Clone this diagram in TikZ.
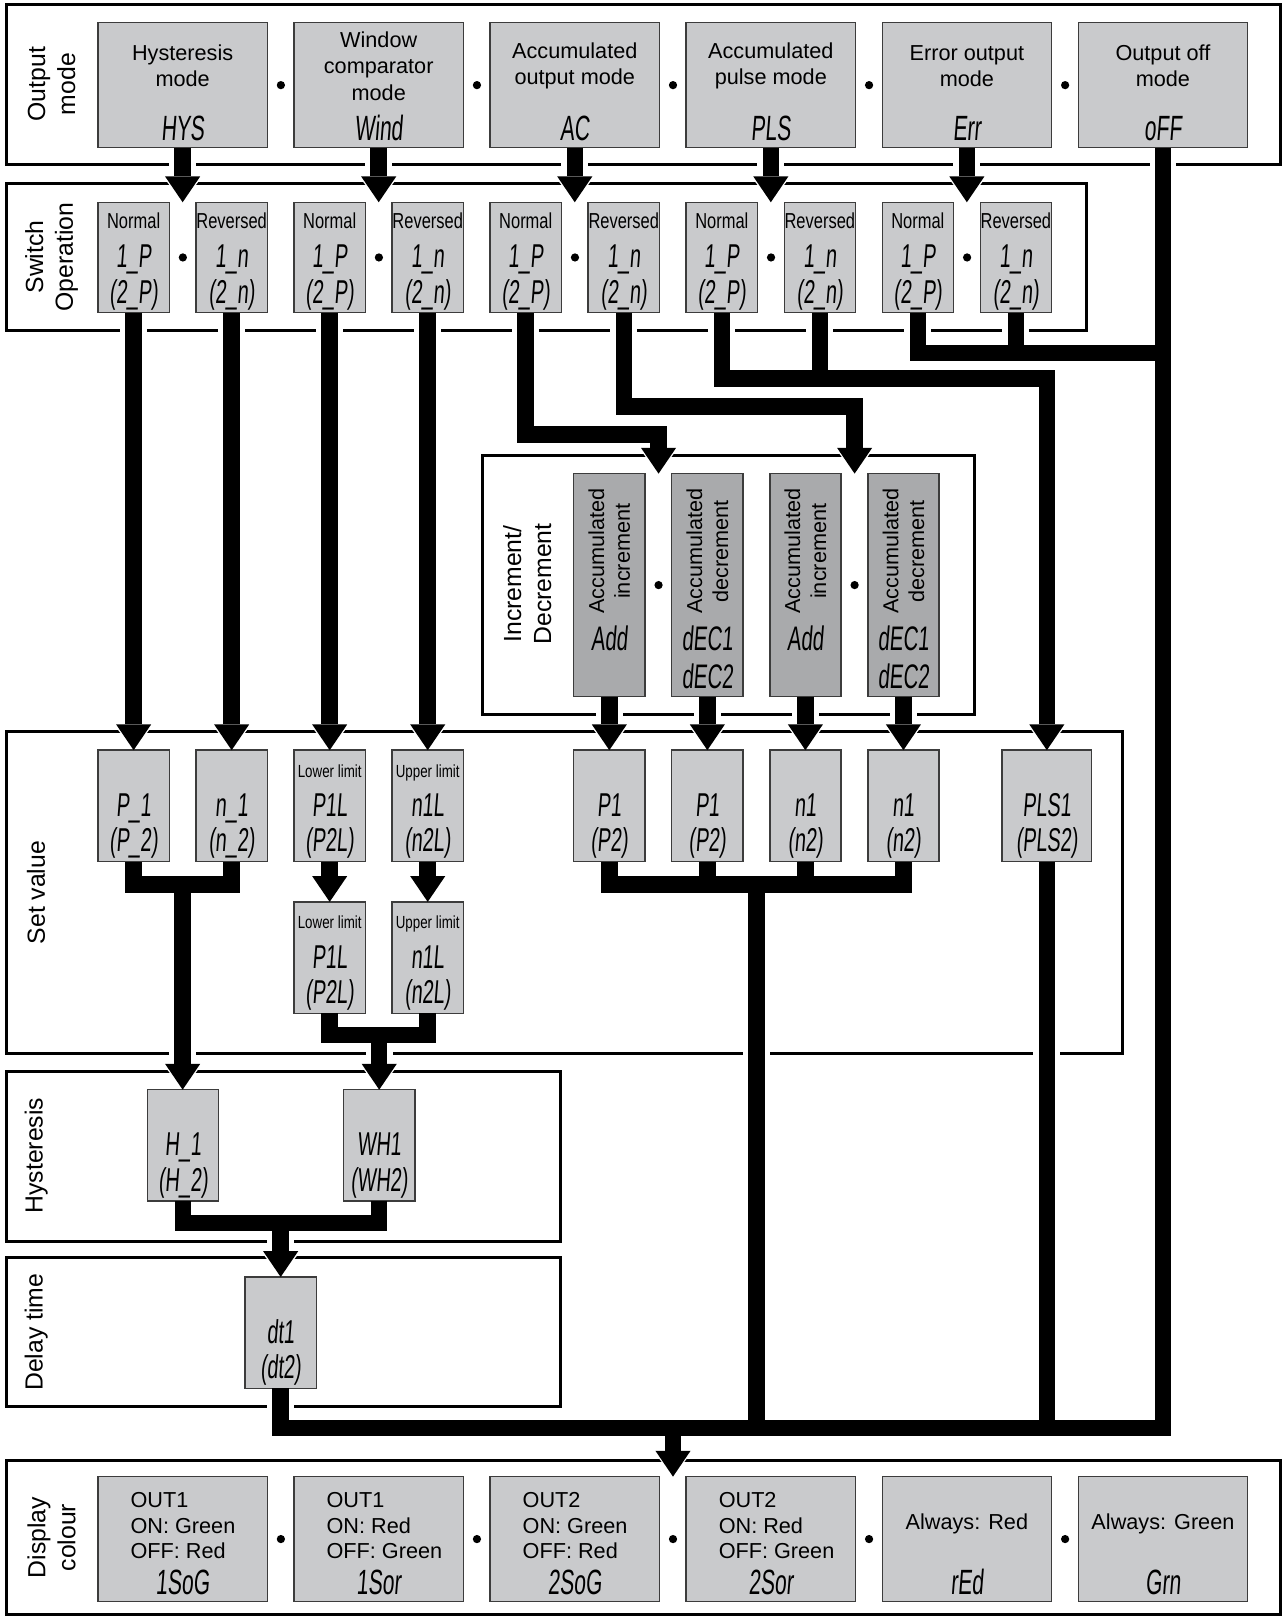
\documentclass[tikz,border=0pt]{standalone}
\usepackage{fontspec}
\setmainfont{Liberation Sans}
\newfontfamily\lcdfont[FakeStretch=0.6,FakeSlant=0.08]{Liberation Sans}
\newfontfamily\narrowfont[FakeStretch=0.76]{Liberation Sans}
\usetikzlibrary{arrows.meta,positioning,calc}
\definecolor{lcdgray}{HTML}{C9CACC}
\definecolor{incgray}{HTML}{A9AAAC}
\definecolor{boxline}{HTML}{3C3C3C}
\pgfdeclarelayer{panels}
\pgfdeclarelayer{halo}
\pgfsetlayers{panels,halo,main}
% box contents: small label line, then two LCD lines
\newcommand{\swv}[3]{\rule{0pt}{23pt}{\narrowfont\fontsize{21}{20}\selectfont #1}\\[4pt]{\lcdfont #2}\\{\lcdfont #3}}
\newcommand{\setv}[3]{\rule{0pt}{23pt}{\narrowfont\fontsize{17}{20}\selectfont #1}\\[4pt]{\lcdfont #2}\\{\lcdfont #3}}
% thick connector with a white halo under it
\newcommand{\conn}[2][]{%
  \begin{pgfonlayer}{halo}\draw[halo,#1] #2;\end{pgfonlayer}%
  \draw[flow,#1] #2;}

\begin{document}
\begin{tikzpicture}[x=1pt,y=-1pt,
  box/.style={draw=boxline,line width=1.4pt,fill=lcdgray,inner sep=0pt,outer sep=0pt},
  modebox/.style={box,minimum width=164pt,minimum height=121pt},
  swbox/.style={box,minimum width=69pt,minimum height=107pt,align=center,font=\fontsize{32}{34}\selectfont},
  valbox/.style={swbox,minimum height=108pt},
  incbox/.style={box,fill=incgray,minimum width=69pt,minimum height=216pt},
  dot/.style={circle,fill=black,inner sep=0pt,minimum size=8pt},
  sect/.style={rotate=90,align=center,font=\fontsize{24}{29}\selectfont},
  panel/.style={draw=black,line width=3pt},
  modetxt/.style={anchor=center,yshift=-42pt,align=center,font=\fontsize{21}{25.5}\selectfont},
  lcdtxt/.style={anchor=base,yshift=7pt,font=\lcdfont\fontsize{34}{36}\selectfont},
  disptxt/.style={anchor=north west,xshift=28pt,yshift=-12pt,align=left,font=\fontsize{21}{24.5}\selectfont},
  alltxt/.style={anchor=base,yshift=-51pt,font=\fontsize{21}{24.5}\selectfont},
  inctxt/.style={yshift=-11pt,rotate=90,anchor=east,align=center,font=\fontsize{21}{25}\selectfont},
  inclcd/.style={anchor=north,yshift=-144pt,align=center,font=\lcdfont\fontsize{33}{37}\selectfont},
  flow/.style={draw=black,line width=16pt,>={Triangle[length=25pt,width=34pt,line width=0pt]}},
  halo/.style={draw=white,line width=26pt,>={Triangle[length=30pt,width=46pt,line width=0pt]}}
]
\useasboundingbox (0,0) rectangle (1243,1568);

% section frames
\begin{pgfonlayer}{panels}
\draw[panel] (6,4) rectangle (1241,159);
\draw[panel] (6,178) rectangle (1053,320);
\draw[panel] (468,441) rectangle (944,692);
\draw[panel] (6,709) rectangle (1088,1021);
\draw[panel] (6,1038) rectangle (543,1203);
\draw[panel] (6,1219) rectangle (543,1363);
\draw[panel] (6,1415) rectangle (1241,1565);
\end{pgfonlayer}

\node[sect] (lout) at (50,81.5) {Output\\mode};
\node[sect] (lsw) at (50,249) {Switch\\Operation};
\node[sect] (linc) at (511,566) {Increment/\\Decrement};
\node[sect] (lset) at (35,865) {Set value};
\node[sect] (lhys) at (35,1120) {Hysteresis};
\node[sect] (ldel) at (35,1291) {Delay time};
\node[sect] (ldis) at (50,1490) {Display\\colour};

% output mode
\node[modebox,label={[modetxt]north:{Hysteresis\\mode}},label={[lcdtxt]south:HYS}] (hys) at (177,82.5) {};
\node[modebox,right=26pt of hys,label={[modetxt]north:{Window\\comparator\\mode}},label={[lcdtxt]south:Wind}] (wind) {};
\node[modebox,right=26pt of wind,label={[modetxt]north:{Accumulated\\output mode}},label={[lcdtxt]south:AC}] (acc) {};
\node[modebox,right=26pt of acc,label={[modetxt]north:{Accumulated\\pulse mode}},label={[lcdtxt]south:PLS}] (pls) {};
\node[modebox,right=26pt of pls,label={[modetxt]north:{Error output\\mode}},label={[lcdtxt]south:Err}] (err) {};
\node[modebox,right=26pt of err,label={[modetxt]north:{Output off\\mode}},label={[lcdtxt]south:oFF}] (off) {};
\node[dot,right=9pt of hys] (d1) {};
\node[dot,right=9pt of wind] (d2) {};
\node[dot,right=9pt of acc] (d3) {};
\node[dot,right=9pt of pls] (d4) {};
\node[dot,right=9pt of err] (d5) {};

% switch operation
\node[swbox] (nrm1) at (129.5,249.5) {\swv{Normal}{1\_P}{(2\_P)}};
\node[swbox,right=26pt of nrm1] (rev1) {\swv{Reversed}{1\_n}{(2\_n)}};
\node[swbox,right=26pt of rev1] (nrm2) {\swv{Normal}{1\_P}{(2\_P)}};
\node[swbox,right=26pt of nrm2] (rev2) {\swv{Reversed}{1\_n}{(2\_n)}};
\node[swbox,right=26pt of rev2] (nrm3) {\swv{Normal}{1\_P}{(2\_P)}};
\node[swbox,right=26pt of nrm3] (rev3) {\swv{Reversed}{1\_n}{(2\_n)}};
\node[swbox,right=26pt of rev3] (nrm4) {\swv{Normal}{1\_P}{(2\_P)}};
\node[swbox,right=26pt of nrm4] (rev4) {\swv{Reversed}{1\_n}{(2\_n)}};
\node[swbox,right=26pt of rev4] (nrm5) {\swv{Normal}{1\_P}{(2\_P)}};
\node[swbox,right=26pt of nrm5] (rev5) {\swv{Reversed}{1\_n}{(2\_n)}};
\node[dot,right=9pt of nrm1] (e1) {};
\node[dot,right=9pt of nrm2] (e2) {};
\node[dot,right=9pt of nrm3] (e3) {};
\node[dot,right=9pt of nrm4] (e4) {};
\node[dot,right=9pt of nrm5] (e5) {};

% increment / decrement
\node[incbox,label={[inctxt]north:{Accumulated\\increment}},label={[inclcd]north:Add}] (inc1) at (590.5,567) {};
\node[incbox,right=26pt of inc1,label={[inctxt]north:{Accumulated\\decrement}},label={[inclcd]north:{dEC1\\dEC2}}] (dec1) {};
\node[incbox,right=26pt of dec1,label={[inctxt]north:{Accumulated\\increment}},label={[inclcd]north:Add}] (inc2) {};
\node[incbox,right=26pt of inc2,label={[inctxt]north:{Accumulated\\decrement}},label={[inclcd]north:{dEC1\\dEC2}}] (dec2) {};
\node[dot,right=9pt of inc1] (f1) {};
\node[dot,right=9pt of inc2] (f2) {};

% set value
\node[valbox] (sp1) at (129.5,781) {\setv{}{P\_1}{(P\_2)}};
\node[valbox,right=26pt of sp1] (sn1) {\setv{}{n\_1}{(n\_2)}};
\node[valbox,right=26pt of sn1] (lo1) {\setv{Lower limit}{P1L}{(P2L)}};
\node[valbox,right=26pt of lo1] (up1) {\setv{Upper limit}{n1L}{(n2L)}};
\node[valbox,below=39pt of lo1] (lo2) {\setv{Lower limit}{P1L}{(P2L)}};
\node[valbox,right=26pt of lo2] (up2) {\setv{Upper limit}{n1L}{(n2L)}};
\node[valbox] (ap1) at (590.5,781) {\setv{}{P1}{(P2)}};
\node[valbox,right=26pt of ap1] (ap2) {\setv{}{P1}{(P2)}};
\node[valbox,right=26pt of ap2] (an1) {\setv{}{n1}{(n2)}};
\node[valbox,right=26pt of an1] (an2) {\setv{}{n1}{(n2)}};
\node[valbox,minimum width=87pt] (spls) at (1014.5,781) {\setv{}{PLS1}{(PLS2)}};

% hysteresis, delay time
\node[valbox] (hy1) at (177.5,1110) {\setv{}{H\_1}{(H\_2)}};
\node[valbox] (wh1) at (367.5,1110) {\setv{}{WH1}{(WH2)}};
\node[valbox] (dt1) at (272,1291.5) {\setv{}{dt1}{(dt2)}};

% display colour
\node[modebox,label={[disptxt]north west:{OUT1\\ON: Green\\OFF: Red}},label={[lcdtxt]south:1SoG}] (c1) at (177,1491.5) {};
\node[modebox,right=26pt of c1,label={[disptxt]north west:{OUT1\\ON: Red\\OFF: Green}},label={[lcdtxt]south:1Sor}] (c2) {};
\node[modebox,right=26pt of c2,label={[disptxt]north west:{OUT2\\ON: Green\\OFF: Red}},label={[lcdtxt]south:2SoG}] (c3) {};
\node[modebox,right=26pt of c3,label={[disptxt]north west:{OUT2\\ON: Red\\OFF: Green}},label={[lcdtxt]south:2Sor}] (c4) {};
\node[modebox,right=26pt of c4,label={[alltxt]north:Always: Red},label={[lcdtxt]south:rEd}] (c5) {};
\node[modebox,right=26pt of c5,label={[alltxt]north:Always: Green},label={[lcdtxt]south:Grn}] (c6) {};
\node[dot,right=9pt of c1] (g1) {};
\node[dot,right=9pt of c2] (g2) {};
\node[dot,right=9pt of c3] (g3) {};
\node[dot,right=9pt of c4] (g4) {};
\node[dot,right=9pt of c5] (g5) {};

% junction heights
\coordinate (kn5) at (0,342);
\coordinate (kn4) at (0,367);
\coordinate (kr3) at (0,394);
\coordinate (kn3) at (0,421);
\coordinate (kb) at (0,1384);
\coordinate (jh) at (177,857);
\coordinate (jp) at (733,857);
\coordinate (jw) at (367.5,1003);
\coordinate (jd) at (272,1185);

% mode -> switch operation
\conn[->]{(hys.south) -- (hys.south |- nrm1.north)}
\conn[->]{(wind.south) -- (wind.south |- nrm1.north)}
\conn[->]{(acc.south) -- (acc.south |- nrm1.north)}
\conn[->]{(pls.south) -- (pls.south |- nrm1.north)}
\conn[->]{(err.south) -- (err.south |- nrm1.north)}

% switch operation -> next step
\conn[->]{(nrm1.south) -- (sp1.north)}
\conn[->]{(rev1.south) -- (sn1.north)}
\conn[->]{(nrm2.south) -- (lo1.north)}
\conn[->]{(rev2.south) -- (up1.north)}
\conn[->]{(nrm3.south) |- (kn3 -| f1) -- (f1 |- inc1.north)}
\conn[->]{(rev3.south) |- (kr3 -| f2) -- (f2 |- inc2.north)}
\conn[->]{(nrm4.south) |- (kn4 -| spls.north) -- (spls.north)}
\conn{(rev4.south) -- (rev4.south |- kn4)}
\conn{(nrm5.south) |- (kn5 -| off.south)}
\conn{(rev5.south) -- (rev5.south |- kn5)}
\conn{(off.south) |- (kb -| dt1.south) -- (dt1.south)}

% increment / decrement -> set value
\conn[->]{(inc1.south) -- (ap1.north)}
\conn[->]{(dec1.south) -- (ap2.north)}
\conn[->]{(inc2.south) -- (an1.north)}
\conn[->]{(dec2.south) -- (an2.north)}

% set value -> hysteresis / bottom line
\conn{(ap1.south) |- (jp) -| (an2.south)}
\conn{(ap2.south) -- (ap2.south |- jp)}
\conn{(an1.south) -- (an1.south |- jp)}
\conn{(jp) -- (jp |- kb)}
\conn{(spls.south) -- (spls.south |- kb)}
\conn{(sp1.south) |- (jh) -| (sn1.south)}
\conn[->]{(jh) -- (jh |- hy1.north)}
\conn[->]{(lo1.south) -- (lo2.north)}
\conn[->]{(up1.south) -- (up2.north)}
\conn{(lo2.south) |- (jw) -| (up2.south)}
\conn[->]{(jw) -- (jw |- wh1.north)}
\conn{(hy1.south) |- (jd) -| (wh1.south)}
\conn[->]{(jd) -- (jd |- dt1.north)}

% -> display colour
\conn[->]{(kb -| g3) -- (g3 |- c3.north)}
\end{tikzpicture}
\end{document}
